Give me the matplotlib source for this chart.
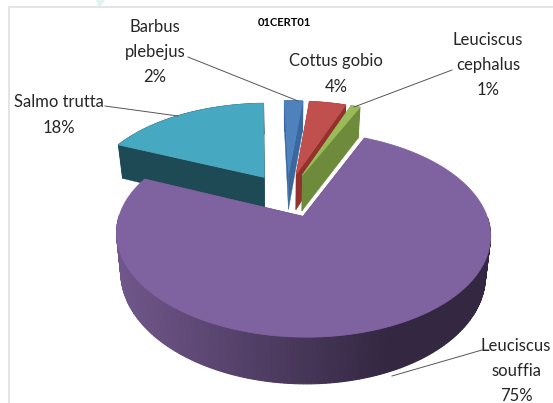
import matplotlib
matplotlib.use('Agg')
import matplotlib.pyplot as plt
from matplotlib.patches import Polygon
import numpy as np

plt.rcParams['font.family'] = ['Lato', 'DejaVu Sans']

species = ['Barbus\nplebejus', 'Cottus gobio', 'Leuciscus\ncephalus', 'Leuciscus\nsouffia', 'Salmo trutta']
shares = [2, 4, 1, 75, 18]
top_colors = ['#4f81bd', '#c0504d', '#9bbb59', '#7f62a0', '#47a8c2']
side_colors = ['#39689f', '#94302e', '#6d8b3a', '#4f3d66', '#1e4a55']
draw_order = [4, 0, 1, 2, 3]

# label centres and leader lines, in pixels of the 553x403 picture
label_xy = [(155, 52), (336, 74), (488, 65), (516, 371), (59, 115)]
leaders = [[(188, 57), (298, 101)], [], [(452, 70), (354, 107)],
           [(482, 350), (392, 376)], [(105, 106), (178, 116)]]

# pie projection
cx, cy = 287, 195
rx, ry = 177, 92
persp = 0.17
explode = 0.24
depth = 37
start_angle = np.radians(-1.5)


def project(u, v, z=0.0):
    s = 1 / (1 + persp * v)
    x = cx + rx * u * s
    y = cy - ry * v * s
    return x - (x - cx) * 0.025 * z, y + depth * s * z


def rim_shade(x):
    """purple side face goes dark towards the right"""
    t = np.clip((x - 120) / 270, 0, 1)
    c0 = np.array([0x70, 0x56, 0x8a]) / 255
    c1 = np.array([0x33, 0x27, 0x41]) / 255
    return tuple(c0 + (c1 - c0) * t)


def draw_slice(ax, a0, a1, top, side, gradient=False):
    mid = (a0 + a1) / 2
    ox, oy = explode * np.sin(mid), explode * np.cos(mid)
    t = np.linspace(a0, a1, max(int(np.degrees(a1 - a0)), 2) + 1)
    us, vs = ox + np.sin(t), oy + np.cos(t)

    # cut faces
    for a in (a0, a1):
        pts = [project(ox, oy), project(ox + np.sin(a), oy + np.cos(a)),
               project(ox + np.sin(a), oy + np.cos(a), 1), project(ox, oy, 1)]
        ax.add_patch(Polygon(pts, fc=side, ec=side, lw=0.3))

    # outer rim, the back half of the big slice never shows
    for i in range(len(t) - 1):
        if gradient and np.cos(t[i]) > 0:
            continue
        pts = [project(us[i], vs[i]), project(us[i + 1], vs[i + 1]),
               project(us[i + 1], vs[i + 1], 1), project(us[i], vs[i], 1)]
        c = rim_shade(pts[0][0]) if gradient else side
        ax.add_patch(Polygon(pts, fc=c, ec=c, lw=0.8))

    # top surface
    pts = [project(ox, oy)] + [project(a, b) for a, b in zip(us, vs)]
    ax.add_patch(Polygon(pts, fc=top, ec=top, lw=0.6))


def main():
    fig = plt.figure(figsize=(5.53, 4.03), dpi=100)
    ax = fig.add_axes([0, 0, 1, 1])
    ax.set_xlim(0, 553)
    ax.set_ylim(403, 0)
    ax.set_axis_off()

    # chart frame and the bit of page watermark above it
    ax.plot([9, 9, 553], [403, 6.5, 6.5], color='#e2e2e2', lw=1.3)
    ax.add_patch(Polygon([(96, 0), (105, 0), (101, 6), (98, 6)], fc='#dff3f0', ec='none'))

    ends = start_angle + np.cumsum(shares) / sum(shares) * 2 * np.pi
    starts = ends - np.array(shares) / sum(shares) * 2 * np.pi
    for i in draw_order:
        draw_slice(ax, starts[i], ends[i], top_colors[i], side_colors[i], gradient=(i == 3))

    for name, share, (x, y), line in zip(species, shares, label_xy, leaders):
        ax.text(x, y, '%s\n%d%%' % (name, share), ha='center', va='center',
                fontsize=12, color='#262626', linespacing=1.73)
        if line:
            ax.plot([p[0] for p in line], [p[1] for p in line], color='#555555', lw=0.7)

    ax.text(284, 23, '01CERT01', ha='center', va='center', fontsize=8, fontweight='bold', color='black')

    fig.savefig('out.png', dpi=100)


if __name__ == '__main__':
    main()
